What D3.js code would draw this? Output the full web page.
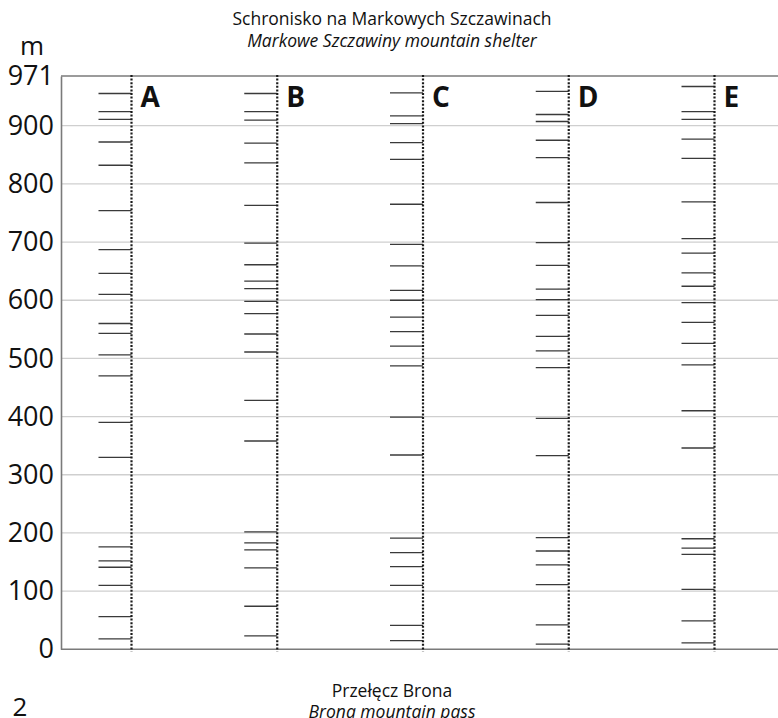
<!DOCTYPE html>
<html>
<head>
<meta charset="utf-8">
<script src="https://cdn.jsdelivr.net/npm/d3@7"></script>
<style>
  html, body { margin: 0; padding: 0; background: #fff; }
  svg { display: block; }
</style>
</head>
<body>
<svg id="chart" width="778" height="718"></svg>
<script>
// Profile columns and the elevations (m) of each marked level
const columns = ["A", "B", "C", "D", "E"];
const levelsA = [946, 920, 909, 872, 832, 754, 687, 646, 610, 560, 543, 506, 470, 390, 330, 176, 152, 141, 110, 56, 18];
const levelsB = [946, 920, 908, 870, 836, 763, 698, 661, 633, 620, 598, 577, 542, 511, 428, 358, 202, 183, 171, 140, 74, 23];
const levelsC = [947, 914, 903, 871, 842, 765, 696, 659, 617, 600, 571, 546, 521, 487, 399, 334, 191, 166, 142, 110, 41, 15];
const levelsD = [949, 916, 906, 875, 845, 768, 699, 660, 619, 601, 574, 538, 513, 484, 397, 333, 192, 169, 145, 111, 42, 9];
const levelsE = [956, 920, 909, 877, 844, 769, 706, 681, 647, 624, 596, 562, 526, 489, 410, 346, 190, 174, 163, 103, 49, 11];
const levels = [levelsA, levelsB, levelsC, levelsD, levelsE];

const gridValues = [100, 200, 300, 400, 500, 600, 700, 800, 900];
const axisTicks = [0, 100, 200, 300, 400, 500, 600, 700, 800, 900, 971];
const topElevation = 971;

const titleTop = ["Schronisko na Markowych Szczawinach", "Markowe Szczawiny mountain shelter"];
const titleBottom = ["Przełęcz Brona", "Brona mountain pass"];

const svg = d3.select("#chart");
const font = "'Open Sans', 'DejaVu Sans', sans-serif";

const plotLeft = 61, plotRight = 778;

// Vertical scale: the upper band (900 → summit) is stretched to the frame top
const y = d3.scaleLinear()
  .domain([0, 900, topElevation])
  .range([649.3, 125.7, 76]);

const x = d3.scalePoint()
  .domain(columns)
  .range([131.5, 714.5]);

const tickLen = 33;

// horizontal grid
svg.append("g")
  .selectAll("line")
  .data(gridValues)
  .join("line")
  .attr("x1", plotLeft).attr("x2", plotRight)
  .attr("y1", d => y(d)).attr("y2", d => y(d))
  .attr("stroke", "#cfcfcf")
  .attr("stroke-width", 1.3);

// frame top and bottom
svg.append("g")
  .selectAll("line")
  .data([0, topElevation])
  .join("line")
  .attr("x1", plotLeft).attr("x2", plotRight)
  .attr("y1", d => y(d)).attr("y2", d => y(d))
  .attr("stroke", "#7a7a7a")
  .attr("stroke-width", 1.6);

// left axis
const axis = d3.axisLeft(y)
  .tickValues(axisTicks)
  .tickFormat(d3.format("d"))
  .tickSizeInner(0)
  .tickSizeOuter(0)
  .tickPadding(7);

const gAxis = svg.append("g")
  .attr("transform", `translate(${plotLeft},0)`)
  .call(axis);
gAxis.select(".domain").attr("stroke", "#7a7a7a").attr("stroke-width", 1.6);
gAxis.selectAll("text")
  .attr("font-family", font)
  .attr("font-size", 27)
  .attr("fill", "#111");

svg.append("text")
  .attr("x", 32).attr("y", 55)
  .attr("text-anchor", "middle")
  .attr("font-family", font)
  .attr("font-size", 26)
  .attr("fill", "#111")
  .text("m");

// level marks for every column
const cols = svg.append("g")
  .selectAll("g")
  .data(columns.map((c, i) => ({ name: c, values: levels[i] })))
  .join("g");

cols.selectAll("line.level")
  .data(d => d.values.map(v => ({ name: d.name, v })))
  .join("line")
  .attr("class", "level")
  .attr("x1", d => x(d.name) - tickLen)
  .attr("x2", d => x(d.name))
  .attr("y1", d => y(d.v)).attr("y2", d => y(d.v))
  .attr("stroke", "#3a3a3a")
  .attr("stroke-width", 1.3);

// dotted profile lines
cols.append("line")
  .attr("x1", d => x(d.name)).attr("x2", d => x(d.name))
  .attr("y1", y(topElevation) - 1).attr("y2", y(0) + 2)
  .attr("stroke", "#1a1a1a")
  .attr("stroke-width", 2.2)
  .attr("stroke-dasharray", "2,1.6");

// column letters
cols.append("text")
  .attr("x", d => x(d.name) + 9)
  .attr("y", 107)
  .attr("font-family", font)
  .attr("font-weight", "bold")
  .attr("font-size", 28)
  .attr("fill", "#111")
  .text(d => d.name);

// titles
const cx = 392;
const titleSize = 17.5;
svg.append("text")
  .attr("x", cx).attr("y", 25)
  .attr("text-anchor", "middle")
  .attr("font-family", font).attr("font-size", titleSize).attr("fill", "#111")
  .text(titleTop[0]);
svg.append("text")
  .attr("x", cx).attr("y", 47)
  .attr("text-anchor", "middle")
  .attr("font-family", font).attr("font-size", titleSize).attr("font-style", "italic").attr("fill", "#111")
  .text(titleTop[1]);
svg.append("text")
  .attr("x", cx).attr("y", 697)
  .attr("text-anchor", "middle")
  .attr("font-family", font).attr("font-size", titleSize).attr("fill", "#111")
  .text(titleBottom[0]);
svg.append("text")
  .attr("x", cx).attr("y", 718)
  .attr("text-anchor", "middle")
  .attr("font-family", font).attr("font-size", titleSize).attr("font-style", "italic").attr("fill", "#111")
  .text(titleBottom[1]);

// panel number
svg.append("text")
  .attr("x", 20).attr("y", 716)
  .attr("text-anchor", "middle")
  .attr("font-family", font).attr("font-size", 26).attr("fill", "#111")
  .text("2");
</script>
</body>
</html>
